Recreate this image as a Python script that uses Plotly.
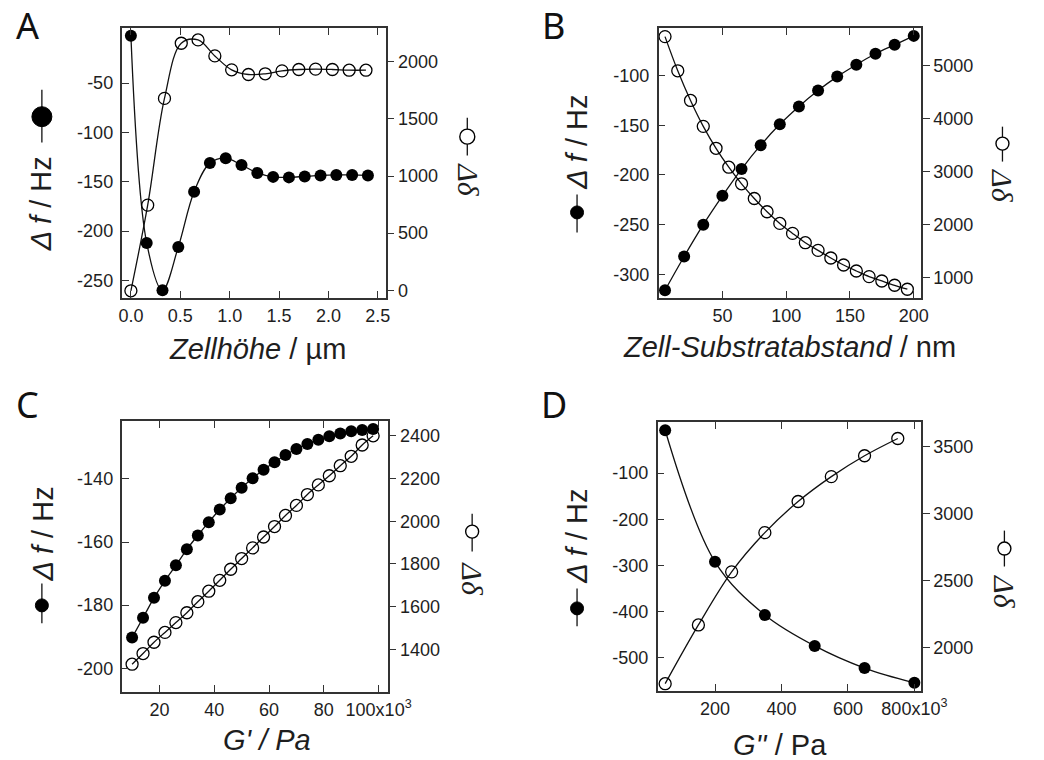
import plotly.graph_objects as go

# ---------------- data ----------------
# Panel A: cell height (µm)
a_x_f = [0.0, 0.16, 0.32, 0.48, 0.64, 0.80, 0.96, 1.12, 1.28, 1.44, 1.60, 1.76, 1.92, 2.08, 2.24, 2.40]
a_df = [-2, -212, -260, -216, -160, -131, -126, -133, -141, -145, -145.5, -144.5, -143.5, -143, -143, -143.5]
a_x_o = [0.0, 0.17, 0.34, 0.51, 0.68, 0.85, 1.02, 1.19, 1.36, 1.53, 1.70, 1.87, 2.04, 2.21, 2.38]
a_dd = [-5, 745, 1680, 2163, 2192, 2052, 1930, 1889, 1895, 1921, 1933, 1936, 1933, 1927, 1927]

# Panel B: cell-substrate distance (nm)
b_x_f = [5, 20, 35, 50, 65, 80, 95, 110, 125, 140, 155, 170, 185, 200]
b_df = [-316, -282, -250, -221, -194, -170, -149, -131, -115, -101, -89, -78, -69, -60]
b_x_o = [5, 15, 25, 35, 45, 55, 65, 75, 85, 95, 105, 115, 125, 135, 145, 155, 165, 175, 185, 195]
b_dd = [5553, 4906, 4345, 3855, 3440, 3082, 2768, 2490, 2240, 2019, 1830, 1654, 1509, 1365, 1232, 1119, 1013, 930, 849, 774]

# Panel C: G' (Pa)
c_x = [10e3, 14e3, 18e3, 22e3, 26e3, 30e3, 34e3, 38e3, 42e3, 46e3, 50e3, 54e3, 58e3, 62e3, 66e3, 70e3,
       74e3, 78e3, 82e3, 86e3, 90e3, 94e3, 98e3]
c_df = [-190.3, -184, -177.7, -172.3, -167.4, -162.3, -157.9, -153.7, -149.7, -146.1, -142.8, -139.8,
        -137.1, -134.7, -132.4, -130.5, -128.9, -127.6, -126.5, -125.6, -124.9, -124.5, -124.2]
c_dd = [1330, 1380, 1433, 1479, 1525, 1571, 1623, 1672, 1723, 1775, 1825, 1875, 1926, 1975, 2027, 2074,
        2125, 2170, 2213, 2260, 2304, 2357, 2400]

# Panel D: G'' (Pa)
d_x_f = [50e3, 200e3, 350e3, 500e3, 650e3, 800e3]
d_df = [-7, -292, -407, -474, -522, -554]
d_x_o = [50e3, 150e3, 250e3, 350e3, 450e3, 550e3, 650e3, 750e3]
d_dd = [1729, 2168, 2565, 2858, 3091, 3277, 3433, 3562]

# tick labels
a_xticks = [0, 0.5, 1.0, 1.5, 2.0, 2.5]
a_xtext = ["0.0", "0.5", "1.0", "1.5", "2.0", "2.5"]
b_xticks = [50, 100, 150, 200]
c_xticks = [20e3, 40e3, 60e3, 80e3, 100e3]
c_xtext = ["20", "40", "60", "80", "100x10<sup>3</sup>"]
d_xticks = [200e3, 400e3, 600e3, 800e3]
d_xtext = ["200", "400", "600", "800x10<sup>3</sup>"]
a_yl = [-250, -200, -150, -100, -50]
a_yr = [0, 500, 1000, 1500, 2000]
b_yl = [-300, -250, -200, -150, -100]
b_yr = [1000, 2000, 3000, 4000, 5000]
c_yl = [-200, -180, -160, -140]
c_yr = [1400, 1600, 1800, 2000, 2200, 2400]
d_yl = [-500, -400, -300, -200, -100]
d_yr = [2000, 2500, 3000, 3500]

W, H = 1044, 760
def px(x):
    return x / W
def py(y):
    return 1 - y / H

TXT = "#1e1e1e"
AX = "#333333"
TICKFONT = dict(family="Liberation Sans, Arial, sans-serif", size=18, color=TXT)

fig = go.Figure()

def add_series(k, xf, yf, xo, yo):
    xa = "x" if k == 1 else f"x{k}"
    yl = "y" if k == 1 else f"y{2*k-1}"
    yr = f"y{2*k}"
    fig.add_trace(go.Scatter(x=xf, y=yf, xaxis=xa, yaxis=yl, mode="lines+markers",
                             line=dict(color="#111", width=1.3, shape="spline", smoothing=1.0),
                             marker=dict(symbol="circle", size=12, color="#000"),
                             showlegend=False, hoverinfo="skip"))
    fig.add_trace(go.Scatter(x=xo, y=yo, xaxis=xa, yaxis=yr, mode="lines+markers",
                             line=dict(color="#111", width=1.3, shape="spline", smoothing=1.0),
                             marker=dict(symbol="circle-open", size=12, color="#000",
                                         line=dict(width=1.3, color="#000")),
                             showlegend=False, hoverinfo="skip"))

add_series(1, a_x_f, a_df, a_x_o, a_dd)
add_series(2, b_x_f, b_df, b_x_o, b_dd)
add_series(3, c_x, c_df, c_x, c_dd)
add_series(4, d_x_f, d_df, d_x_o, d_dd)

def lab(v):
    return str(v)

panels = [
    dict(xd=(122, 393), yd=(28, 299), xr=[-0.085, 2.58], xt=a_xticks, xtt=a_xtext,
         ylr=[-268, 6], ylt=a_yl, yrr=[-70, 2297], yrt=a_yr),
    dict(xd=(674, 944), yd=(28, 299), xr=[0, 205.6], xt=b_xticks, xtt=[lab(v) for v in b_xticks],
         ylr=[-324, -52], ylt=b_yl, yrr=[604, 5717], yrt=b_yr),
    dict(xd=(122, 395), yd=(422, 694), xr=[6.5e3, 103.3e3], xt=c_xticks, xtt=c_xtext,
         ylr=[-207.6, -121.6], ylt=c_yl, yrr=[1199, 2470], yrt=c_yr),
    dict(xd=(673, 944), yd=(423, 693), xr=[27.4e3, 819.5e3], xt=d_xticks, xtt=d_xtext,
         ylr=[-572, 11], ylt=d_yl, yrr=[1673, 3686], yrt=d_yr),
]

layout = dict(width=W, height=H, margin=dict(l=0, r=0, t=0, b=0),
              paper_bgcolor="white", plot_bgcolor="white", showlegend=False)

for i, p in enumerate(panels):
    k = i + 1
    xname = "xaxis" if k == 1 else f"xaxis{k}"
    ylname = "yaxis" if k == 1 else f"yaxis{2*k-1}"
    yrname = f"yaxis{2*k}"
    ylref = "y" if k == 1 else f"y{2*k-1}"
    xref = "x" if k == 1 else f"x{k}"
    layout[xname] = dict(domain=[px(p["xd"][0]), px(p["xd"][1])], anchor=ylref, range=p["xr"],
                         tickvals=p["xt"], ticktext=p["xtt"], ticks="inside", ticklen=7, tickwidth=1.3,
                         tickcolor=AX, showline=True, linecolor=AX, linewidth=1.5, mirror="ticks",
                         showgrid=False, zeroline=False, tickfont=TICKFONT)
    layout[ylname] = dict(domain=[py(p["yd"][1]), py(p["yd"][0])], anchor=xref, range=p["ylr"],
                          tickvals=p["ylt"], ticktext=[lab(v) for v in p["ylt"]],
                          ticks="inside", ticklen=7, tickwidth=1.3, tickcolor=AX, ticklabelstandoff=4,
                          showline=True, linecolor=AX, linewidth=1.5, showgrid=False, zeroline=False,
                          tickfont=TICKFONT)
    layout[yrname] = dict(domain=[py(p["yd"][1]), py(p["yd"][0])], anchor=xref, overlaying=ylref,
                          side="right", range=p["yrr"], tickvals=p["yrt"],
                          ticktext=[lab(v) for v in p["yrt"]], ticks="outside", ticklen=7,
                          tickwidth=1.3, tickcolor=AX, showline=True, linecolor=AX, linewidth=1.5,
                          showgrid=False, zeroline=False, tickfont=TICKFONT)

fig.update_layout(**layout)

TITLEFONT = dict(family="Liberation Sans, Arial, sans-serif", size=29, color=TXT)
SERIF = dict(family="Liberation Serif, Times New Roman, serif", size=30, color=TXT, style="italic")
ann = []
shapes = []
# panel letters
for letter, (x, y) in zip("ABCD", [(24, 26), (566, 26), (24, 406), (566, 406)]):
    ann.append(dict(x=px(x), y=py(y), xref="paper", yref="paper", text=letter, showarrow=False,
                    xanchor="center", yanchor="middle",
                    font=dict(family="Noto Sans, sans-serif", size=36, color="#111")))
# x titles
xt = [("<i>Zellhöhe</i> / µm", 261, 350), ("<i>Zell-Substratabstand</i> / nm", 809, 348),
      ("<i>G' / Pa</i>", 271, 742), ("<i>G''</i> / Pa", 799, 747)]
for t, x, y in xt:
    ann.append(dict(x=px(x), y=py(y), xref="paper", yref="paper", text=t, showarrow=False,
                    xanchor="center", yanchor="middle", font=TITLEFONT))

# left y titles (read bottom to top): text center + legend symbol (x, y_top, y_bottom, y_circle, r)
left = [(39, 204, (39, 90, 143, 117, 10)),
        (590, 143, (590, 195, 233, 213, 6.5)),
        (40, 535, (39, 585, 625, 607, 6.5)),
        (590, 538, (590, 590, 628, 610, 6.5))]
for x, y, sym in left:
    ann.append(dict(x=px(x), y=py(y), xref="paper", yref="paper", text="<i>Δ f</i> / Hz",
                    showarrow=False, textangle=-90, xanchor="center", yanchor="middle", font=TITLEFONT))
    sx, y0, y1, yc, r = sym
    shapes.append(dict(type="line", xref="paper", yref="paper", x0=px(sx), x1=px(sx), y0=py(y0), y1=py(y1),
                       line=dict(color="#111", width=1.3)))
    shapes.append(dict(type="circle", xref="paper", yref="paper", xsizemode="pixel", ysizemode="pixel",
                       xanchor=px(sx), yanchor=py(yc), x0=-r, x1=r, y0=-r, y1=r,
                       fillcolor="#000", line=dict(color="#000", width=1)))

# right y titles (read top to bottom)
right = [(478, 181, (477, 118, 156, 137, 7.5)),
         (1028, 187, (1028, 127, 162, 144, 6.5)),
         (482, 581, (482, 515, 553, 533, 6.5)),
         (1030, 594, (1030, 532, 568, 550, 6.5))]
for x, y, sym in right:
    ann.append(dict(x=px(x), y=py(y), xref="paper", yref="paper", text="Δδ",
                    showarrow=False, textangle=90, xanchor="center", yanchor="middle", font=SERIF))
    sx, y0, y1, yc, r = sym
    shapes.append(dict(type="line", xref="paper", yref="paper", x0=px(sx), x1=px(sx), y0=py(y0), y1=py(y1),
                       line=dict(color="#111", width=1.3)))
    shapes.append(dict(type="circle", xref="paper", yref="paper", xsizemode="pixel", ysizemode="pixel",
                       xanchor=px(sx), yanchor=py(yc), x0=-r, x1=r, y0=-r, y1=r,
                       fillcolor="white", line=dict(color="#000", width=1.4)))

fig.update_layout(annotations=ann, shapes=shapes)

fig.write_html("out.html")
